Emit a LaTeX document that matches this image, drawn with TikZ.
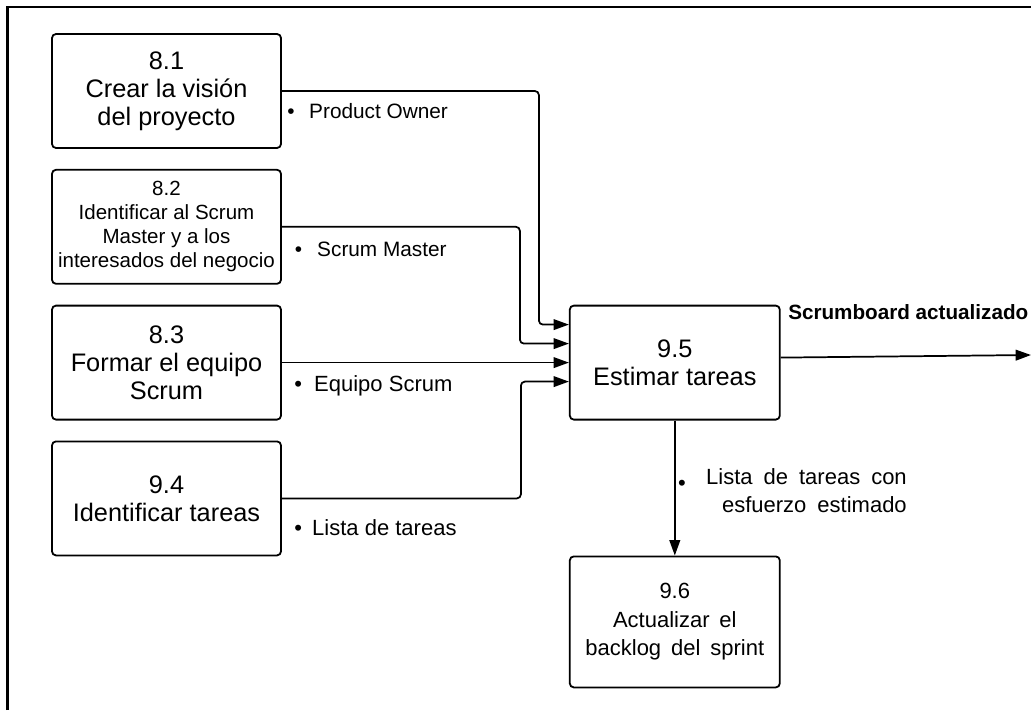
\documentclass[tikz,border=0pt]{standalone}
\usepackage{fontspec}
\setmainfont{Liberation Sans}
\usepackage{tikz}
\usetikzlibrary{arrows.meta, positioning}
\newcommand\widesp[1]{\spaceskip=#1\relax}

\begin{document}
\begin{tikzpicture}[
    x=0.75pt, y=-0.75pt,
    node distance=15pt and 215.25pt,
    box/.style={draw, line width=1.35pt, rounded corners=3pt, align=center, minimum width=171.75pt, minimum height=85.5pt, inner sep=2pt, font=\fontsize{19}{21}\selectfont},
    arrow/.style={-{Triangle[length=11.5pt, width=8pt]}, line width=1.3pt, rounded corners=3pt},
    flow/.style={anchor=base west, inner sep=0pt, font=\fontsize{15.6}{18}\selectfont}
]
\useasboundingbox (0,0) rectangle (1031,710);
\draw[line width=1.8pt] (7.5,710) -- (7.5,7) -- (1031,7);

\node[box] (vision) at (166.5,91) {8.1\\Crear la visión\\del proyecto};
\node[box, below=of vision, font=\fontsize{15.4}{18}\selectfont] (roles) {8.2\\Identificar al Scrum\\Master y a los\\interesados del negocio};
\node[box, below=of roles] (team) {8.3\\Formar el equipo\\Scrum};
\node[box, below=of team] (tasks) {9.4\\Identificar tareas};
\node[box, right=of team, minimum width=157.5pt] (estimate) {9.5\\Estimar tareas};
\node[box, below=101.25pt of estimate, minimum width=157.5pt, minimum height=98.25pt, font=\fontsize{16.5}{21.4}\selectfont\widesp{0.45em}] (update) {9.6\\Actualizar el\\backlog del sprint};
\coordinate (out) at (1031,355);

\node[flow] (owner) at (287,118) {\textbullet\hspace{11pt}Product Owner};
\node[flow] (master) at (294.5,256) {\textbullet\hspace{11.4pt}Scrum Master};
\node[flow, font=\fontsize{16.5}{18}\selectfont] (members) at (294,391) {\textbullet\hspace{9.2pt}Equipo Scrum};
\node[flow, font=\fontsize{16.5}{18}\selectfont] (list) at (294,535) {\textbullet\hspace{7.7pt}Lista de tareas};
\node[flow, font=\fontsize{15.5}{18}\selectfont\bfseries] (board) at (788,319) {Scrumboard actualizado};
\node[inner sep=0pt, font=\fontsize{16.5}{18}\selectfont] (dot) at (682,485) {\textbullet};
\node[anchor=east, inner sep=0pt, align=right, font=\fontsize{16.5}{21}\selectfont\widesp{0.5em}] (effort) at (907,491) {Lista de tareas con\\esfuerzo estimado};

\draw[arrow] (vision.east) -- ++(257,0) |- ([yshift=28.5pt]estimate.west);
\draw[arrow] (roles.east) -- ++(238,0) |- ([yshift=14.25pt]estimate.west);
\draw[arrow] (team.east) -- (estimate.west);
\draw[arrow] (tasks.east) -- ++(239,0) |- ([yshift=-14.25pt]estimate.west);
\draw[arrow] ([yshift=3.75pt]estimate.east) -- (out);
\draw[arrow] (estimate) -- (update);
\end{tikzpicture}
\end{document}
